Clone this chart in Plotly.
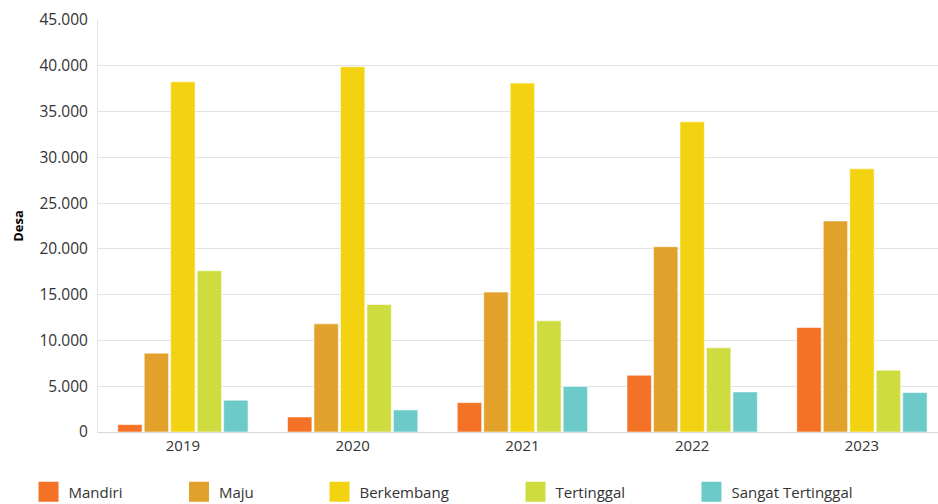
import plotly.graph_objects as go

years = ["2019", "2020", "2021", "2022", "2023"]
series_names = ["Mandiri", "Maju", "Berkembang", "Tertinggal", "Sangat Tertinggal"]
mandiri = [810, 1640, 3210, 6200, 11420]
maju = [8610, 11810, 15280, 20240, 23050]
berkembang = [38250, 39890, 38110, 33880, 28740]
tertinggal = [17610, 13930, 12140, 9190, 6750]
sangat_tertinggal = [3470, 2410, 4970, 4380, 4310]
y_ticks = [0, 5000, 10000, 15000, 20000, 25000, 30000, 35000, 40000, 45000]

values = [mandiri, maju, berkembang, tertinggal, sangat_tertinggal]
colors = ["#F37225", "#E2A12A", "#F3D212", "#CFDC3F", "#6CCAC8"]
legend_x = [-0.0827, 0.0964, 0.2637, 0.497, 0.7065]
legend_ids = ["legend", "legend2", "legend3", "legend4", "legend5"]

FONT = "Open Sans, Noto Sans, sans-serif"
fig = go.Figure()
for name, vals, col in zip(series_names, values, colors):
    fig.add_trace(go.Bar(
        x=years, y=vals, name=name, showlegend=False,
        marker=dict(color=col, line=dict(color="rgba(255,255,255,0.55)", width=1)),
    ))
for name, col, lid in zip(series_names, colors, legend_ids):
    fig.add_trace(go.Scatter(
        x=[None], y=[None], mode="markers", name=name, legend=lid,
        marker=dict(symbol="square", size=16, color=col, line=dict(color=col, width=4)),
    ))

layout_legends = {}
for lid, lx in zip(legend_ids, legend_x):
    layout_legends[lid] = dict(
        x=lx, y=1 - 492 / 504, yref="container", xanchor="left", yanchor="middle",
        orientation="h",
        font=dict(family=FONT, size=15, color="#333333"), bgcolor="rgba(0,0,0,0)",
    )

fig.update_layout(
    width=938, height=504,
    margin=dict(l=98, r=0, t=20, b=72),
    paper_bgcolor="white", plot_bgcolor="white",
    barmode="group", bargap=0.22, bargroupgap=0.08,
    separators=",.",
    font=dict(family=FONT, size=14, color="#333333"),
    **layout_legends,
)
fig.update_xaxes(
    type="category", range=[-0.5, 4.448],
    showgrid=False, showline=True, linecolor="#d9d9d9", linewidth=1,
    ticks="", tickfont=dict(family=FONT, size=15, color="#333333"),
)
fig.update_yaxes(
    range=[0, 45000], tickvals=y_ticks, tickformat=",d",
    showgrid=True, gridcolor="#e3e3e3", gridwidth=1,
    showline=True, linecolor="#e3e3e3", linewidth=1,
    zeroline=True, zerolinecolor="#d9d9d9", zerolinewidth=1,
    ticks="", ticklabelstandoff=6,
    tickfont=dict(family=FONT, size=15.5, color="#333333"),
    title=dict(text="<b>Desa</b>", font=dict(family=FONT, size=13, color="#000000"), standoff=12),
)

fig.write_html("out.html")
